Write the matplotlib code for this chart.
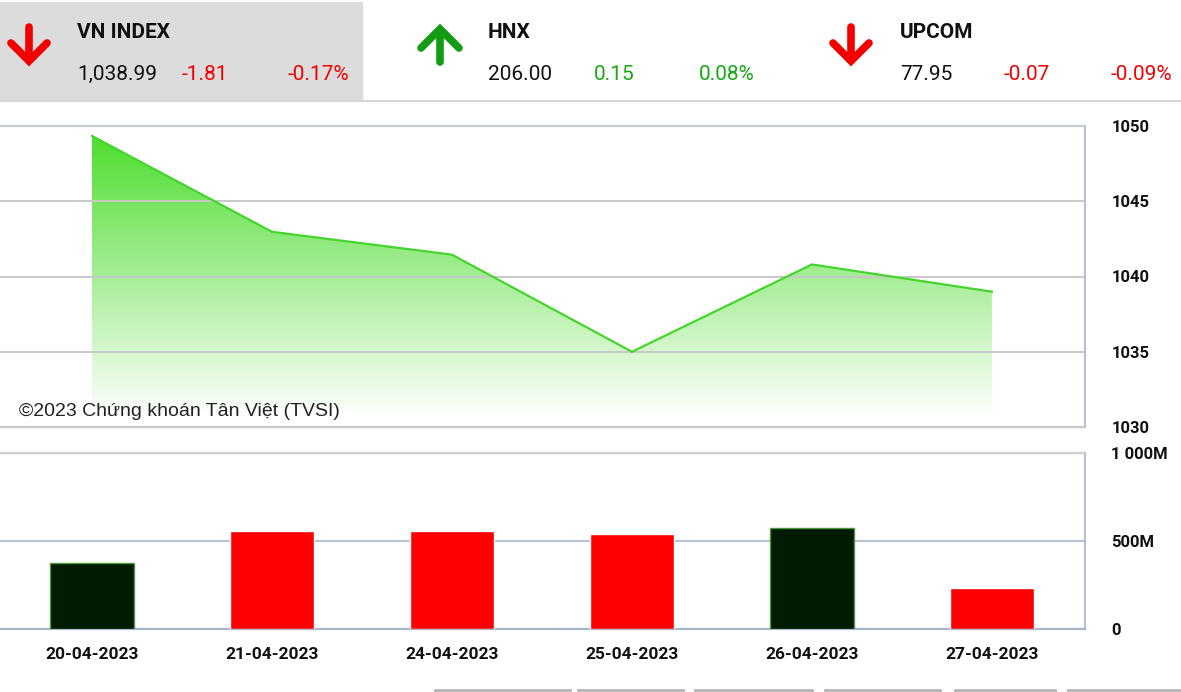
import numpy as np
import matplotlib
matplotlib.use("Agg")
import matplotlib.pyplot as plt
from matplotlib.patches import PathPatch, Rectangle

# dữ liệu
dates = ["20-04-2023", "21-04-2023", "24-04-2023", "25-04-2023", "26-04-2023", "27-04-2023"]
closes = [1049.34, 1042.97, 1041.45, 1035.0, 1040.80, 1038.99]
volumes = [377, 556, 556, 539, 574, 232]  # triệu cổ phiếu
vol_up = [True, False, False, False, True, False]

indices = ["VN INDEX", "HNX", "UPCOM"]
idx_values = ["1,038.99", "206.00", "77.95"]
idx_change = ["-1.81", "0.15", "-0.07"]
idx_pct = ["-0.17%", "0.08%", "-0.09%"]
idx_up = [False, True, False]

W, H = 1181, 692
fig = plt.figure(figsize=(W / 100, H / 100), dpi=100)
fig.patch.set_facecolor("white")

RED = "#f20000"
GREEN_TXT = "#16a816"
GREEN_ARROW = "#139c13"
LINE_GREEN = "#44d62c"
DARK_BAR = "#011c02"

# lớp phủ toạ độ pixel cho phần tiêu đề
ov = fig.add_axes([0, 0, 1, 1])
ov.set_xlim(0, W)
ov.set_ylim(H, 0)
ov.axis("off")
ov.add_patch(Rectangle((0, 2), 362, 98, color="#dcdcdc", zorder=0))
ov.plot([0, W], [101, 101], color="#d6d6d6", lw=1.5)

head_x = [77, 488, 900]
arrow_x = [29, 440, 851]
chg_x = [182, 594, 1004]
pct_x = [349, 755, 1172]
for i in range(3):
    col = GREEN_TXT if idx_up[i] else RED
    acol = GREEN_ARROW if idx_up[i] else RED
    ax_ = arrow_x[i]
    if idx_up[i]:
        ov.plot([ax_, ax_], [30, 62], color=acol, lw=5.5, solid_capstyle="round")
        ov.plot([ax_ - 19, ax_, ax_ + 19], [48, 29, 48], color=acol, lw=5.5,
                solid_capstyle="round", solid_joinstyle="miter")
    else:
        ov.plot([ax_, ax_], [27, 58], color=acol, lw=5.5, solid_capstyle="round")
        ov.plot([ax_ - 18, ax_, ax_ + 18], [43, 61, 43], color=acol, lw=5.5,
                solid_capstyle="round", solid_joinstyle="miter")
    ov.text(head_x[i], 32, indices[i], fontsize=15, fontweight="bold",
            family="Roboto", color="#111111", va="center", ha="left")
    ov.text(head_x[i], 74, idx_values[i], fontsize=15, family="Roboto",
            color="#111111", va="center", ha="left")
    ov.text(chg_x[i], 74, idx_change[i], fontsize=15, family="Roboto",
            color=col, va="center", ha="left")
    ov.text(pct_x[i], 74, idx_pct[i], fontsize=15, family="Roboto",
            color=col, va="center", ha="right")

# các vạch tab ở đáy
for a, b in [(435, 570), (578, 683), (695, 812), (825, 940), (955, 1055), (1068, 1181)]:
    ov.plot([a, b], [690, 690], color="#b4b4b4", lw=2)

x = np.arange(len(dates))

# biểu đồ chỉ số
ax = fig.add_axes([0, (H - 427) / H, 1085 / W, 301 / H])
ax.set_xlim(-0.511, 5.517)
ax.set_ylim(1030, 1050)
base = 1030.5
fill = ax.fill_between(x, closes, base, color="none", lw=0)
clip = PathPatch(fill.get_paths()[0], transform=ax.transData, facecolor="none", edgecolor="none")
ax.add_patch(clip)
grad = np.zeros((256, 1, 4))
grad[..., 0] = 0.27
grad[..., 1] = 0.86
grad[..., 2] = 0.14
grad[..., 3] = np.linspace(0.95, 0.0, 256)[:, None]
im = ax.imshow(grad, extent=(x[0], x[-1], base, max(closes)), aspect="auto",
               origin="upper", zorder=1)
im.set_clip_path(clip)
ax.plot(x, closes, color=LINE_GREEN, lw=1.6, zorder=3)
ax.set_yticks([1030, 1035, 1040, 1045, 1050])
ax.yaxis.tick_right()
ax.tick_params(axis="y", length=0, pad=19, labelsize=12)
for lab in ax.get_yticklabels():
    lab.set_fontweight("bold")
    lab.set_family("Roboto")
    lab.set_color("#111111")
ax.set_xticks([])
ax.grid(axis="y", color="#c8c8c8", lw=1.4, zorder=0)
ax.spines["left"].set_visible(False)
ax.spines["top"].set_color("#c8ccd2")
ax.spines["right"].set_color("#b4c2d2")
ax.spines["bottom"].set_color("#c8c8c8")
for s in ["top", "right", "bottom"]:
    ax.spines[s].set_linewidth(1.6)
ax.text(0.0175, 0.05, "©2023 Chứng khoán Tân Việt (TVSI)", transform=ax.transAxes,
        fontsize=14, family="Liberation Sans", color="#222222", va="center", ha="left", zorder=5)

# biểu đồ khối lượng
bx = fig.add_axes([0, (H - 629) / H, 1085 / W, 176 / H])
bx.set_xlim(-0.511, 5.517)
bx.set_ylim(0, 1000)
colors = [DARK_BAR if u else "#ff0000" for u in vol_up]
edges = ["#4f9a40" if u else "white" for u in vol_up]
bx.bar(x, volumes, width=0.47, color=colors, edgecolor=edges, linewidth=1.0, zorder=3)
bx.set_yticks([0, 500, 1000])
bx.set_yticklabels(["0", "500M", "1 000M"])
bx.yaxis.tick_right()
bx.tick_params(axis="y", length=0, pad=19, labelsize=12)
bx.set_xticks(x)
bx.set_xticklabels(dates)
bx.tick_params(axis="x", length=0, pad=13, labelsize=12.5)
for lab in bx.get_yticklabels() + bx.get_xticklabels():
    lab.set_fontweight("bold")
    lab.set_family("Roboto")
    lab.set_color("#111111")
bx.grid(axis="y", color="#b8c4d2", lw=1.6, zorder=0)
bx.spines["left"].set_visible(False)
bx.spines["top"].set_color("#d0d0d0")
bx.spines["right"].set_color("#b4c2d2")
bx.spines["bottom"].set_color("#a8b8cc")
for s in ["top", "right", "bottom"]:
    bx.spines[s].set_linewidth(1.6)

fig.savefig("out.png", dpi=100)
